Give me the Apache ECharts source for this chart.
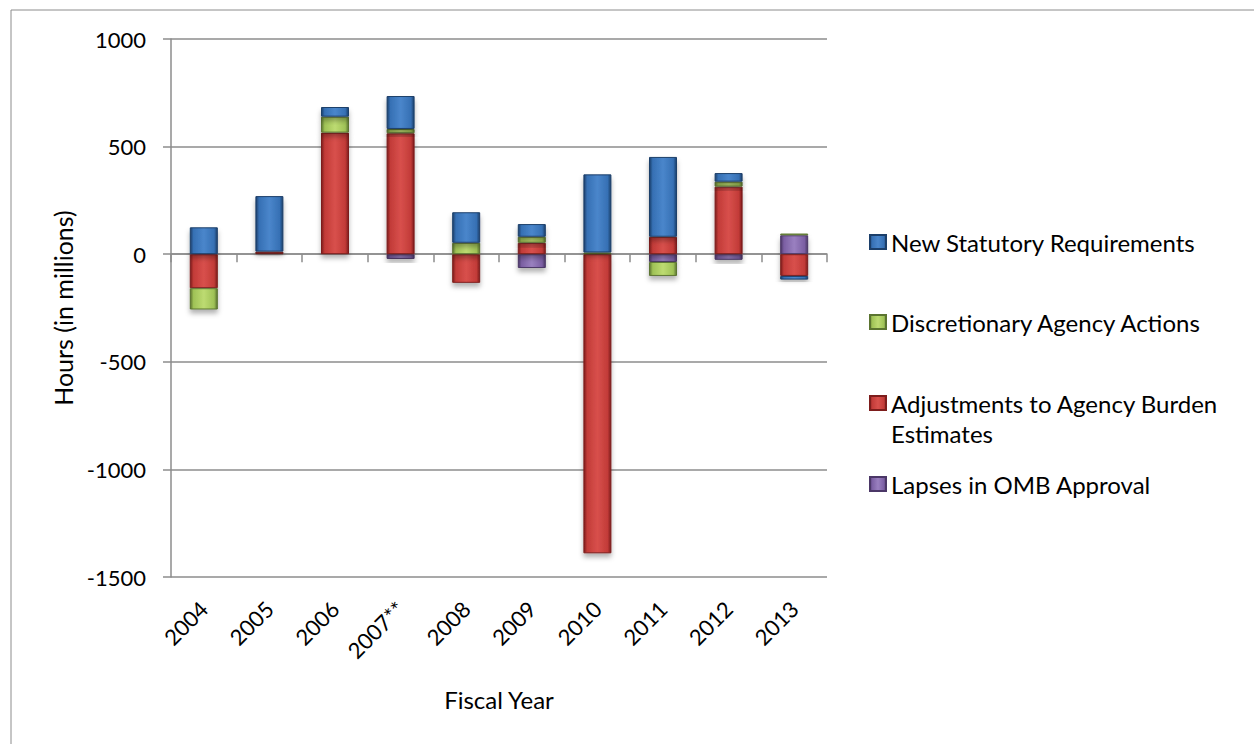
<!DOCTYPE html>
<html>
<head>
<meta charset="utf-8">
<script src="https://cdn.jsdelivr.net/npm/echarts@6/dist/echarts.min.js"></script>
<style>
  html, body { margin: 0; padding: 0; background: #fff; }
  #chart { width: 1254px; height: 744px; }
</style>
</head>
<body>
<div id="chart"></div>
<script>
// fiscal years on the category axis
var years = ['2004', '2005', '2006', '2007**', '2008', '2009', '2010', '2011', '2012', '2013'];
// hours (in millions) per component
var newStatutory = [125, 258, 45, 153, 142, 59, 363, 371, 40, -17];
var discretionary = [-99, 0, 74, 20, 53, 28, 8, -65, 23, 8];
var adjustments = [-158, 12, 565, 562, -133, 53, -1390, 81, 314, -101];
var lapses = [0, 0, 0, -22, 0, -64, 0, -36, -26, 88];
var yTicks = { min: -1500, max: 1000, step: 500 };

var FONT = 'Lato';
var GRAY = '#8c8c8c';
var LEG_SIZE = 24;

// horizontal gradient, dark edges and lighter middle, like the office bevel
function bevel(dark, mid, light) {
  return new echarts.graphic.LinearGradient(0, 0, 1, 0, [
    { offset: 0, color: dark },
    { offset: 0.12, color: mid },
    { offset: 0.5, color: light },
    { offset: 0.88, color: mid },
    { offset: 1, color: dark }
  ]);
}

function barSeries(name, data, dark, mid, light) {
  return {
    name: name,
    type: 'bar',
    stack: 'total',
    barWidth: 28,
    data: data,
    itemStyle: {
      color: bevel(dark, mid, light),
      borderColor: dark,
      borderWidth: 1,
      shadowColor: 'rgba(0,0,0,0.3)',
      shadowBlur: 5,
      shadowOffsetY: 4
    }
  };
}

var chart = echarts.init(document.getElementById('chart'), null, { renderer: 'svg' });

function legendAt(name, centerY, extra) {
  var l = {
    data: [name],
    orient: 'vertical',
    left: 869,
    top: centerY - 14,
    padding: 0,
    icon: 'rect',
    itemWidth: 16,
    itemHeight: 14,
    selectedMode: false,
    textStyle: { fontFamily: FONT, fontSize: LEG_SIZE, color: '#000', lineHeight: 28 }
  };
  return Object.assign(l, extra || {});
}

chart.setOption({
  animation: false,
  textStyle: { fontFamily: FONT },
  graphic: [{
    type: 'rect',
    z: -10,
    shape: { x: 11, y: 10, width: 1400, height: 900 },
    style: { fill: 'none', stroke: GRAY, lineWidth: 1 }
  }, {
    // second line of the wrapped legend entry
    type: 'text',
    left: 891,
    top: 421,
    style: { text: 'Estimates', font: LEG_SIZE + 'px ' + FONT, fill: '#000' }
  }],
  grid: { left: 171, right: 427, top: 39, bottom: 167 },
  legend: [
    legendAt('New Statutory Requirements', 242),
    legendAt('Discretionary Agency Actions', 322),
    legendAt('Adjustments to Agency Burden Estimates', 403, {
      formatter: function () { return 'Adjustments to Agency Burden'; }
    }),
    legendAt('Lapses in OMB Approval', 484)
  ],
  xAxis: [{
    type: 'category',
    data: years,
    position: 'bottom',
    axisLine: { show: false, onZero: false },
    axisTick: { show: false },
    axisLabel: { rotate: 45, margin: 28, fontSize: 22, color: '#000', fontFamily: FONT },
    name: 'Fiscal Year',
    nameLocation: 'middle',
    nameGap: 110,
    nameTextStyle: { fontSize: 24, color: '#000', fontFamily: FONT }
  }, {
    // zero line with its ticks between categories
    type: 'category',
    data: years,
    position: 'top',
    axisLine: { show: true, onZero: true, lineStyle: { color: GRAY, width: 1.5 } },
    axisTick: { show: true, inside: true, length: 8, lineStyle: { color: GRAY, width: 1.5 } },
    axisLabel: { show: false }
  }],
  yAxis: {
    type: 'value',
    min: yTicks.min,
    max: yTicks.max,
    interval: yTicks.step,
    axisLine: { show: true, lineStyle: { color: GRAY, width: 1.5 } },
    axisTick: { show: true, length: 8, lineStyle: { color: GRAY, width: 1.5 } },
    splitLine: { lineStyle: { color: GRAY, width: 1.5 } },
    axisLabel: {
      margin: 25, fontSize: 22, color: '#000', fontFamily: FONT,
      formatter: function (v) { return String(v); }
    },
    name: 'Hours (in millions)',
    nameLocation: 'middle',
    nameGap: 94,
    nameTextStyle: { fontSize: 25, color: '#000', fontFamily: FONT }
  },
  series: [
    barSeries('Lapses in OMB Approval', lapses, '#4b3767', '#7b5fa3', '#9a80c0'),
    barSeries('Adjustments to Agency Burden Estimates', adjustments, '#7d1d1c', '#c23b38', '#d8504c'),
    barSeries('Discretionary Agency Actions', discretionary, '#5b7430', '#9fc256', '#bddb72'),
    barSeries('New Statutory Requirements', newStatutory, '#1c3f6a', '#3670b4', '#4a86cb')
  ]
});
</script>
</body>
</html>
